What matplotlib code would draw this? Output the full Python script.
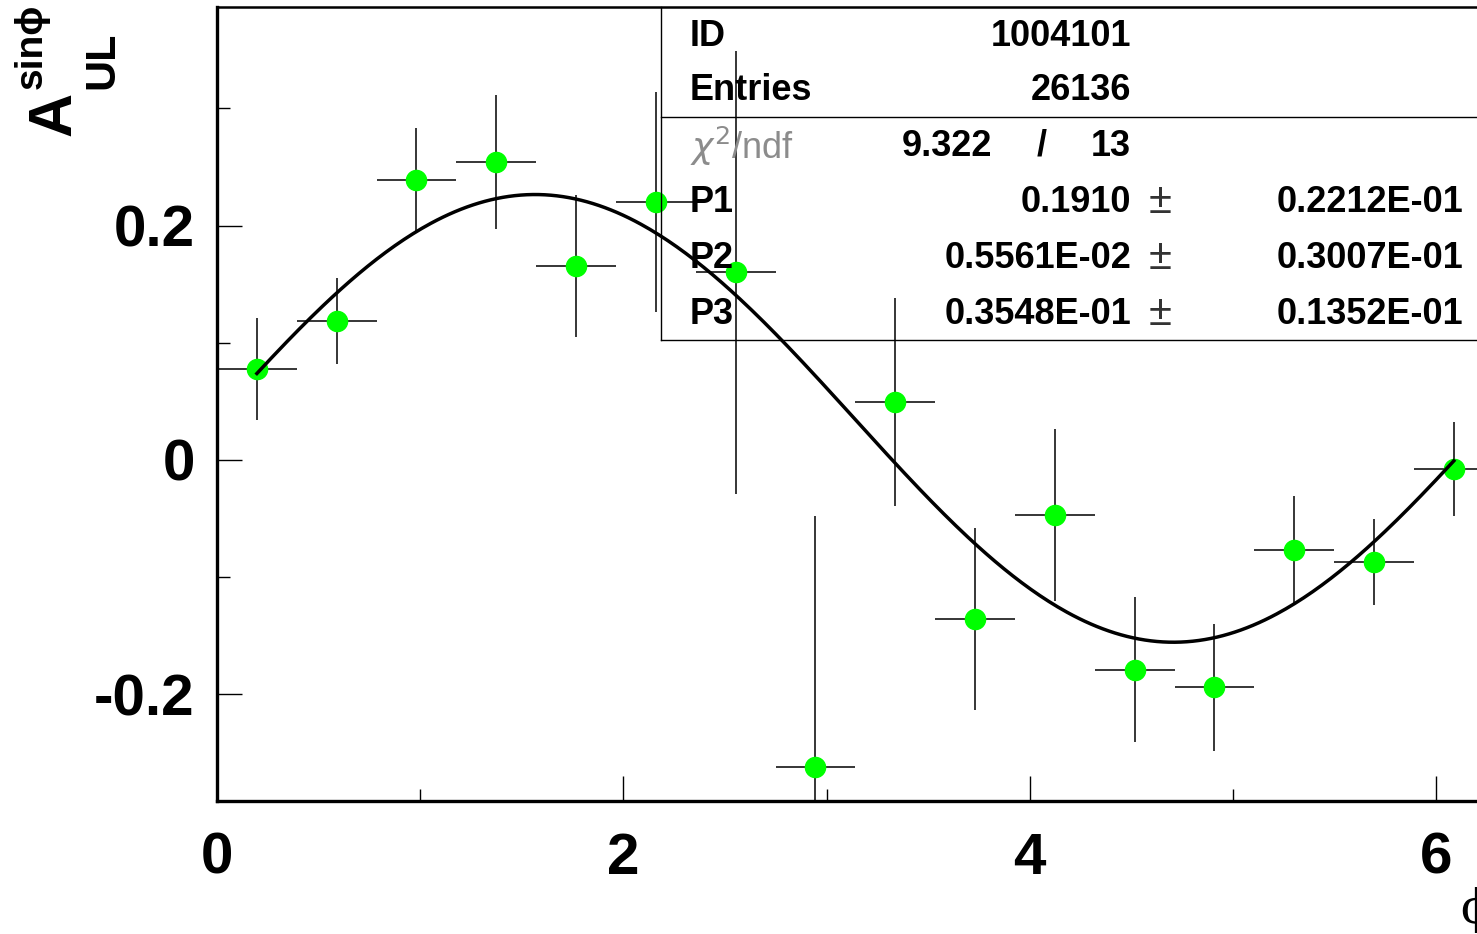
import numpy as np
import matplotlib
matplotlib.use("Agg")
import matplotlib.pyplot as plt
from matplotlib.lines import Line2D
from matplotlib.ticker import MultipleLocator

plt.rcParams["font.family"] = ["Liberation Sans Narrow", "Liberation Sans", "DejaVu Sans"]

# binned asymmetry vs phi (16 bins over 0..2pi)
n_bins = 16
phi_lo, phi_hi = 0.0, 2 * np.pi
asym = [0.0776, 0.1186, 0.239, 0.254, 0.1655, 0.220, 0.160, -0.262,
        0.0495, -0.1357, -0.047, -0.179, -0.194, -0.077, -0.087, -0.0077]
asym_err = [0.0435, 0.037, 0.044, 0.057, 0.061, 0.094, 0.189, 0.214,
            0.089, 0.078, 0.073, 0.062, 0.054, 0.046, 0.037, 0.040]

# fit: P1*sin(phi + P2) + P3
p1, p1_err = 0.1910, 0.2212e-01
p2, p2_err = 0.5561e-02, 0.3007e-01
p3, p3_err = 0.3548e-01, 0.1352e-01
hist_id = "1004101"
entries = "26136"
chi2, ndf = "9.322", "13"

edges = np.linspace(phi_lo, phi_hi, n_bins + 1)
centers = 0.5 * (edges[:-1] + edges[1:])
half_w = 0.5 * (edges[1] - edges[0])

W, H = 1477, 934
fig = plt.figure(figsize=(W / 100, H / 100), dpi=100)

def fx(px):
    return px / W

def fy(py):
    return 1 - py / H

# frame runs past the right edge of the canvas
x0_px, top_px, bot_px = 217, 7, 801
px_per_unit = 203.2
ax = fig.add_axes([fx(x0_px), fy(bot_px), (phi_hi - phi_lo) * px_per_unit / W,
                   (bot_px - top_px) / H])
ax.set_xlim(phi_lo, phi_hi)
ax.set_ylim(-0.291, 0.3865)

ax.errorbar(centers, asym, yerr=asym_err, xerr=half_w, fmt="o", color="black",
            ecolor="black", elinewidth=1.1, capsize=0, mfc="#00ff00", mec="#00ff00",
            ms=14.5, zorder=3)

phi = np.linspace(centers[0], centers[-1], 400)
ax.plot(phi, p1 * np.sin(phi + p2) + p3, color="black", lw=2.5, zorder=4)

for side in ("left", "bottom"):
    ax.spines[side].set_linewidth(2.4)
ax.spines["top"].set_linewidth(1.8)
ax.spines["right"].set_visible(False)

ax.xaxis.set_minor_locator(MultipleLocator(1))
ax.yaxis.set_minor_locator(MultipleLocator(0.1))
ax.tick_params(which="both", direction="in", top=False, right=False, width=1.0)
ax.tick_params(which="major", length=18)
ax.tick_params(which="minor", length=9)
ax.tick_params(axis="x", which="major", labelsize=42, pad=22)
ax.tick_params(axis="y", which="major", labelsize=42, pad=16)
ax.set_xticks([0, 2, 4, 6])
ax.set_xticklabels(["0", "2", "4", "6"], fontweight="bold")
ax.set_yticks([-0.2, 0, 0.2])
ax.set_yticklabels(["-0.2", "0", "0.2"], fontweight="bold")

# y title A_UL^{sin phi}, built from pieces
fig.text(fx(55), fy(114), "A", rotation=90, fontsize=44, fontweight="bold",
         ha="center", va="center")
fig.text(fx(32), fy(46), "sinϕ", rotation=90, fontsize=28, fontweight="bold",
         ha="center", va="center", family=["Liberation Sans", "DejaVu Sans"])
fig.text(fx(102), fy(60), "UL", rotation=90, fontsize=31, fontweight="bold",
         ha="center", va="center")
fig.text(fx(1460), fy(910), "ϕ", fontsize=34, family=["DejaVu Serif"],
         ha="left", va="center")

# statistics box (open on the right)
box_l, box_mid, box_b = 661, 117, 340
for xs, ys in [((box_l, box_l), (top_px, box_b)),
               ((box_l, W), (box_mid, box_mid)),
               ((box_l, W), (box_b, box_b))]:
    fig.add_artist(Line2D([fx(x) for x in xs], [fy(y) for y in ys],
                          color="black", lw=1.0, transform=fig.transFigure))

fs = 26
rows = [36, 90, 146, 202, 258, 314]
lab_x, val_x, pm_x, err_x = 690, 1131, 1160, 1463
bold = dict(fontsize=fs, fontweight="bold", va="center")
fig.text(fx(lab_x), fy(rows[0]), "ID", ha="left", **bold)
fig.text(fx(val_x), fy(rows[0]), hist_id, ha="right", **bold)
fig.text(fx(lab_x), fy(rows[1]), "Entries", ha="left", **bold)
fig.text(fx(val_x), fy(rows[1]), entries, ha="right", **bold)
fig.text(fx(lab_x), fy(rows[2]), r"$\chi^2$/ndf", ha="left", va="center",
         fontsize=fs, color="#8c8c8c", fontweight="light")
fig.text(fx(992), fy(rows[2]), chi2, ha="right", **bold)
fig.text(fx(1042), fy(rows[2]), "/", ha="center", **bold)
fig.text(fx(val_x), fy(rows[2]), ndf, ha="right", **bold)

def fmt(v):
    m, e = f"{v:.3E}".split("E")
    e = int(e) + 1
    if e == 0:
        return f"{v:.4f}"
    return f"{float(m) / 10:.4f}E{'-' if e < 0 else '+'}{abs(e):02d}"

for i, (name, val, err) in enumerate([("P1", p1, p1_err), ("P2", p2, p2_err),
                                      ("P3", p3, p3_err)]):
    y = fy(rows[3 + i])
    fig.text(fx(lab_x), y, name, ha="left", **bold)
    fig.text(fx(val_x), y, fmt(val), ha="right", **bold)
    fig.text(fx(pm_x), y, "±", ha="center", va="center", fontsize=fs + 4,
             fontweight="light", color="#333333")
    fig.text(fx(err_x), y, fmt(err), ha="right", **bold)

fig.savefig("out.png", dpi=100)
